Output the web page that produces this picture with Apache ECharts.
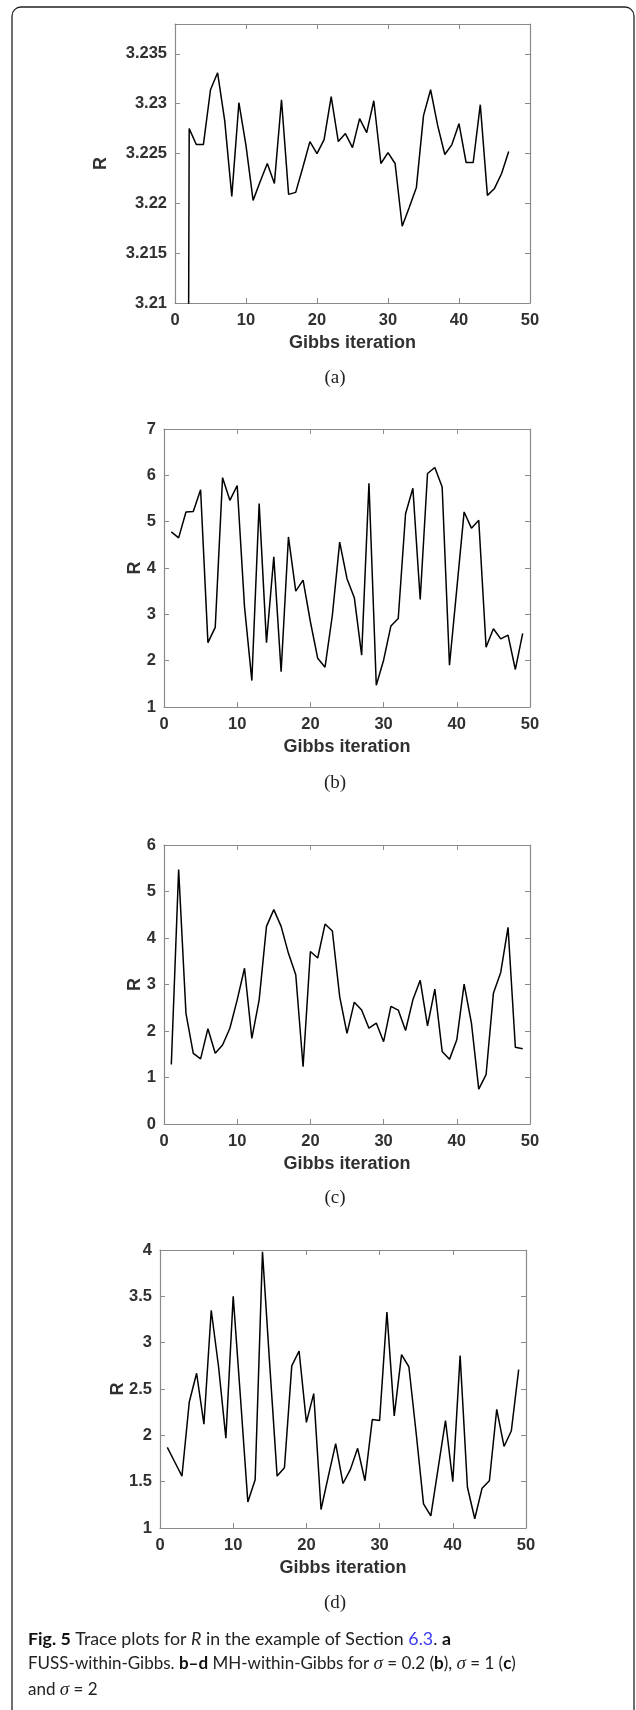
<!DOCTYPE html>
<html>
<head>
<meta charset="utf-8">
<script src="https://cdn.jsdelivr.net/npm/echarts@6/dist/echarts.min.js"></script>
<style>
html,body{margin:0;padding:0;background:#fff;}
#c{width:636px;height:1710px;}
</style>
</head>
<body>
<div id="c"></div>
<script>
// ---- data (R traces per Gibbs iteration, iteration = index + 1) ----
var rA = [3.0, 3.2275, 3.2259, 3.2259, 3.2314, 3.2331, 3.2283, 3.2207, 3.2301, 3.2258,
          3.2203, 3.2222, 3.2240, 3.2220, 3.2304, 3.2209, 3.2211, 3.2236, 3.2262, 3.2250,
          3.2264, 3.2307, 3.2262, 3.2270, 3.2256, 3.2285, 3.2271, 3.2303, 3.2240, 3.2251,
          3.2240, 3.2177, 3.2196, 3.2216, 3.2288, 3.2314, 3.2278, 3.2249, 3.2259, 3.2280,
          3.2241, 3.2241, 3.2299, 3.2208, 3.2215, 3.2230, 3.2252];
var rB = [4.78, 4.65, 5.21, 5.22, 5.69, 2.39, 2.72, 5.95, 5.46, 5.78,
          3.16, 1.57, 5.39, 2.39, 4.24, 1.76, 4.67, 3.50, 3.74, 2.84,
          2.05, 1.86, 2.98, 4.56, 3.77, 3.36, 2.12, 5.83, 1.47, 2.01,
          2.75, 2.91, 5.17, 5.72, 3.32, 6.04, 6.17, 5.75, 1.90, 3.55,
          5.21, 4.86, 5.03, 2.29, 2.69, 2.47, 2.55, 1.81, 2.59];
var rC = [1.28, 5.47, 2.38, 1.52, 1.40, 2.05, 1.52, 1.70, 2.06, 2.67,
          3.35, 1.84, 2.67, 4.25, 4.61, 4.25, 3.67, 3.21, 1.23, 3.71,
          3.57, 4.30, 4.15, 2.74, 1.95, 2.62, 2.45, 2.06, 2.17, 1.77,
          2.53, 2.45, 2.01, 2.67, 3.09, 2.11, 2.90, 1.56, 1.39, 1.81,
          3.01, 2.17, 0.75, 1.06, 2.81, 3.26, 4.23, 1.65, 1.62];
var rD = [1.87, 1.715, 1.56, 2.36, 2.67, 2.12, 3.35, 2.74, 1.97, 3.50,
          2.40, 1.28, 1.52, 3.98, 2.75, 1.56, 1.65, 2.75, 2.91, 2.14,
          2.45, 1.20, 1.56, 1.91, 1.48, 1.63, 1.86, 1.51, 2.17, 2.16,
          3.33, 2.21, 2.87, 2.74, 2.02, 1.26, 1.13, 1.645, 2.16, 1.50,
          2.86, 1.44, 1.10, 1.43, 1.51, 2.28, 1.88, 2.05, 2.71];
var panelLabels = ['(a)', '(b)', '(c)', '(d)'];
var xName = 'Gibbs iteration';
var yName = 'R';
var xRange = [0, 50, 10];
var yRanges = [[3.21, 3.238, 0.005], [1, 7, 1], [0, 6, 1], [1, 4, 0.5]];

// ---- layout ----
var grids = [
  {left: 175, top: 24, width: 355, height: 279},
  {left: 164, top: 429, width: 366, height: 278},
  {left: 164, top: 845, width: 366, height: 279},
  {left: 160, top: 1250, width: 366, height: 278}
];
var yNameX = [101, 135, 135, 118];
var labelY = [378, 783, 1198, 1603];
var series = [rA, rB, rC, rD];

var AX = '#8a8a8a', TXT = '#303030';
var tickFont = {fontFamily: 'Liberation Sans', fontWeight: 'bold', fontSize: 16.5, color: TXT};

var xAxes = [], yAxes = [], ser = [], graphics = [];
grids.forEach(function (g, p) {
  var common = {
    gridIndex: p, type: 'value', min: xRange[0], max: xRange[1], interval: xRange[2],
    splitLine: {show: false},
    axisLine: {show: true, onZero: false, lineStyle: {color: AX, width: 1.2}},
    axisTick: {show: true, inside: true, length: 5, lineStyle: {color: AX, width: 1}}
  };
  xAxes.push(Object.assign({}, common, {
    position: 'bottom',
    axisLabel: Object.assign({margin: 9}, tickFont),
    name: xName, nameLocation: 'middle', nameGap: 31,
    nameTextStyle: {fontFamily: 'Liberation Sans', fontWeight: 'bold', fontSize: 18, color: TXT}
  }));
  xAxes.push(Object.assign({}, common, {position: 'top', axisLabel: {show: false}}));
  var yr = yRanges[p];
  var ycommon = {
    gridIndex: p, type: 'value', min: yr[0], max: yr[1], interval: yr[2],
    splitLine: {show: false},
    axisLine: {show: true, onZero: false, lineStyle: {color: AX, width: 1.2}},
    axisTick: {show: true, inside: true, length: 5, lineStyle: {color: AX, width: 1}}
  };
  yAxes.push(Object.assign({}, ycommon, {
    position: 'left',
    axisLabel: Object.assign({margin: 8, showMaxLabel: p !== 0,
      formatter: function (v) { return String(+v.toFixed(4)); }}, tickFont)
  }));
  yAxes.push(Object.assign({}, ycommon, {position: 'right', axisLabel: {show: false}}));
  ser.push({
    type: 'line', xAxisIndex: 2 * p, yAxisIndex: 2 * p,
    data: series[p].map(function (v, i) { return [i + 1, v]; }),
    showSymbol: false, symbol: 'none', clip: true, animation: false,
    lineStyle: {color: '#000', width: 1.5}
  });
  graphics.push({
    type: 'text',
    style: {text: panelLabels[p], x: 335, y: labelY[p], textAlign: 'center', textVerticalAlign: 'middle',
      font: '19px "Liberation Serif"', fill: '#222'}
  });
  // y-axis name (rotated)
  graphics.push({
    type: 'text', x: yNameX[p], y: g.top + g.height / 2, rotation: Math.PI / 2,
    style: {text: yName, x: 0, y: 0, textAlign: 'center', textVerticalAlign: 'middle',
      font: 'bold 18px "Liberation Sans"', fill: TXT}
  });
});

// frame
graphics.push({
  type: 'rect', shape: {x: 12, y: 7, width: 622, height: 1760, r: 9},
  style: {fill: 'none', stroke: '#222', lineWidth: 1.3}
});

// caption
function rich(fs) {
  return {
    b: {fontFamily: 'Lato', fontWeight: 'bold', fontSize: fs, fill: '#111'},
    i: {fontFamily: 'Lato', fontStyle: 'italic', fontSize: fs, fill: '#222'},
    l: {fontFamily: 'Lato', fontSize: fs, fill: '#3a3af0'},
    s: {fontFamily: 'Liberation Serif', fontStyle: 'italic', fontSize: fs + 2, fill: '#222'}
  };
}
var capLines = [
  '{b|Fig. 5} Trace plots for {i|R} in the example of Section {l|6.3}. {b|a}',
  'FUSS-within-Gibbs. {b|b\u2013d} MH-within-Gibbs for {s|\u03c3} = 0.2 ({b|b}), {s|\u03c3} = 1 ({b|c})',
  'and {s|\u03c3} = 2'
];
var capY = [1639, 1664, 1690];
var capSize = [17.8, 17, 17];
capLines.forEach(function (t, k) {
  graphics.push({
    type: 'text',
    style: {text: t, x: 28, y: capY[k], textAlign: 'left', textVerticalAlign: 'middle',
      font: capSize[k] + 'px Lato', fill: '#222', rich: rich(capSize[k])}
  });
});

var chart = echarts.init(document.getElementById('c'), null, {renderer: 'canvas'});
chart.setOption({
  animation: false,
  backgroundColor: '#fff',
  grid: grids.map(function (g) { return Object.assign({containLabel: false}, g); }),
  xAxis: xAxes,
  yAxis: yAxes,
  series: ser,
  graphic: graphics
});
</script>
</body>
</html>
